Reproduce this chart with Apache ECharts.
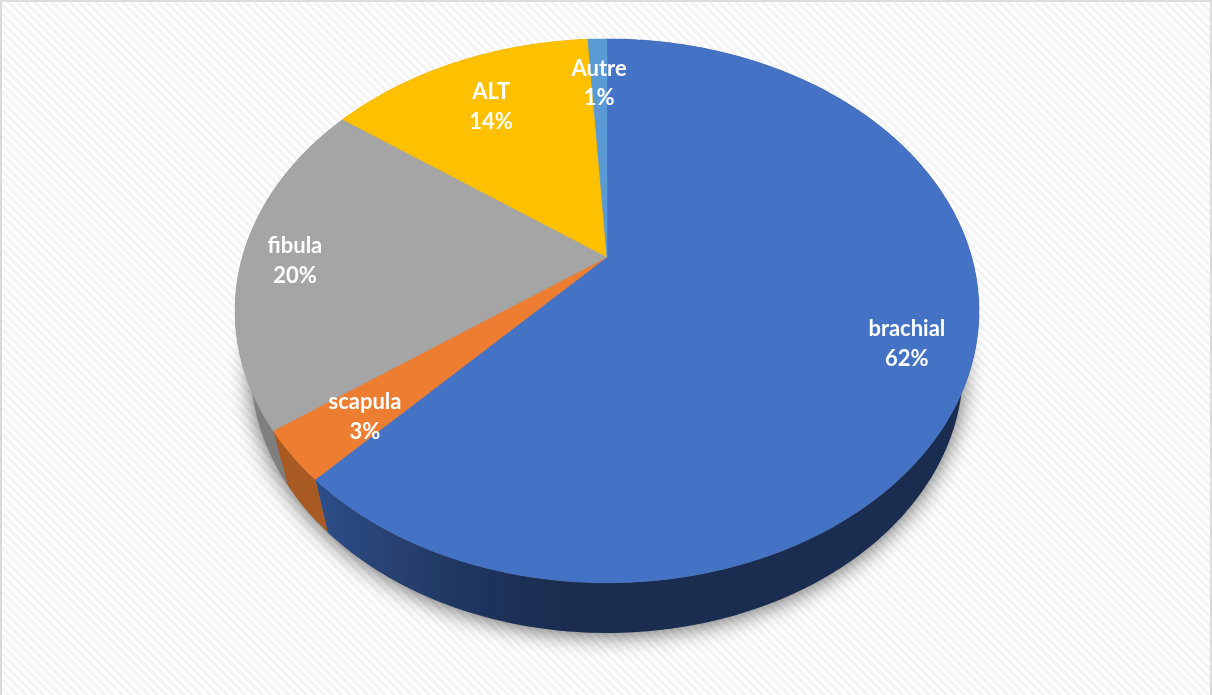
<!DOCTYPE html>
<html>
<head>
<meta charset="utf-8">
<style>
  html, body { margin: 0; padding: 0; background: #fff; }
  #frame {
    position: absolute; left: 0; top: 0; width: 1212px; height: 695px; box-sizing: border-box;
    border-left: 2px solid #d9d9d9; border-top: 2px solid #dcdcdc; border-right: 2px solid #dcdcdc;
    background-color: #fff;
    background-image: repeating-linear-gradient(45deg, #fff 0, #fff 3.1px, #f4f4f4 3.1px, #f4f4f4 6.2px);
  }
  #chart { position: absolute; left: 0; top: 0; width: 1212px; height: 695px; }
</style>
</head>
<body>
<div id="frame"></div>
<div id="chart"></div>
<script src="https://cdn.jsdelivr.net/npm/echarts@6/dist/echarts.min.js"></script>
<script>
// Reconstruction surgery flaps, share of each donor site (percent).
const categories = ['brachial', 'scapula', 'fibula', 'ALT', 'Autre'];
const shares = [62, 3, 20, 14, 1];

const faceColors = ['#4472C4', '#ED7D31', '#A5A5A5', '#FFC000', '#5B9BD5'];
const wallColors = ['#1A2C4F', '#A85A22', '#7F7F7F', '#B38600', '#3F6F9C'];

// Perspective disc: the hub sits above the centre of the projected ellipse.
const tilt = 0.198;
const topRim = { cx: 607, cy: 257, a: 364.6, b: 261.3 };
const bottomRim = { cx: 607, cy: 315.5, a: 349, b: 254.6 };
const labelRadius = [0.831, 0.793, 0.856, 0.745, 0.8];
const labelNudgeY = [2, 7, 4, 1, 7];

const total = shares.reduce((s, v) => s + v, 0);

function project(rim, angle, r) {
  const w = 1 + tilt * r * Math.cos(angle);
  return [rim.cx + rim.a * r * Math.sin(angle) / w,
          rim.cy - rim.b * r * Math.cos(angle) / w];
}

function sliceAngles(index) {
  let before = 0;
  for (let i = 0; i < index; i++) before += shares[i];
  const k = Math.PI * 2 / total;
  return [before * k, (before + shares[index]) * k];
}

function rimPoints(rim, start, end) {
  const steps = Math.max(4, Math.ceil((end - start) / (Math.PI / 240)));
  const pts = [];
  for (let i = 0; i <= steps; i++) pts.push(project(rim, start + (end - start) * i / steps, 1));
  return pts;
}

function renderWall(params, api) {
  const i = params.dataIndex;
  const [start, end] = sliceAngles(i);
  const pts = rimPoints(topRim, start, end).concat(rimPoints(bottomRim, start, end).reverse());
  let fill = wallColors[i];
  if (i === 0) {
    // The big slice's wall lightens toward its left end.
    const from = project(bottomRim, end, 1)[0];
    fill = new echarts.graphic.LinearGradient(from, 0, topRim.cx, 0, [
      { offset: 0, color: '#2C4C85' },
      { offset: 0.26, color: '#27406F' },
      { offset: 0.5, color: '#1F3560' },
      { offset: 0.85, color: wallColors[0] },
      { offset: 1, color: wallColors[0] }
    ], true);
  }
  return { type: 'polygon', shape: { points: pts }, style: { fill: fill, stroke: null } };
}

function renderShadow() {
  const pts = rimPoints(bottomRim, 0, Math.PI * 2);
  return {
    type: 'polygon', shape: { points: pts },
    style: { fill: '#888', shadowColor: 'rgba(0,0,0,0.6)', shadowBlur: 22, shadowOffsetY: 2 }
  };
}

function renderFace(params, api) {
  const i = params.dataIndex;
  const [start, end] = sliceAngles(i);
  const pts = [[topRim.cx, topRim.cy]].concat(rimPoints(topRim, start, end));
  return {
    type: 'polygon', shape: { points: pts },
    style: { fill: faceColors[i], stroke: faceColors[i], lineWidth: 0.5 }
  };
}

function renderLabel(params, api) {
  const i = params.dataIndex;
  const [start, end] = sliceAngles(i);
  const p = project(topRim, (start + end) / 2, labelRadius[i]);
  return {
    type: 'text', x: p[0], y: p[1] + labelNudgeY[i],
    style: {
      text: categories[i] + '\n' + api.value(0) + '%',
      fill: '#fff', font: 'bold 22px Lato', lineHeight: 29.5,
      align: 'center', verticalAlign: 'middle'
    }
  };
}

const data = shares.map((v, i) => ({ name: categories[i], value: [v] }));
const base = { type: 'custom', coordinateSystem: 'none', silent: true, animation: false, clip: false };

const chart = echarts.init(document.getElementById('chart'), null, { renderer: 'canvas' });
chart.setOption({
  backgroundColor: 'transparent',
  animation: false,
  series: [
    Object.assign({}, base, { name: 'shadow', z: 1, data: [[0]], renderItem: renderShadow }),
    Object.assign({}, base, { name: 'walls', z: 2, data: data, renderItem: renderWall }),
    Object.assign({}, base, { name: 'faces', z: 3, data: data, renderItem: renderFace }),
    Object.assign({}, base, { name: 'labels', z: 4, data: data, renderItem: renderLabel })
  ]
});
</script>
</body>
</html>
